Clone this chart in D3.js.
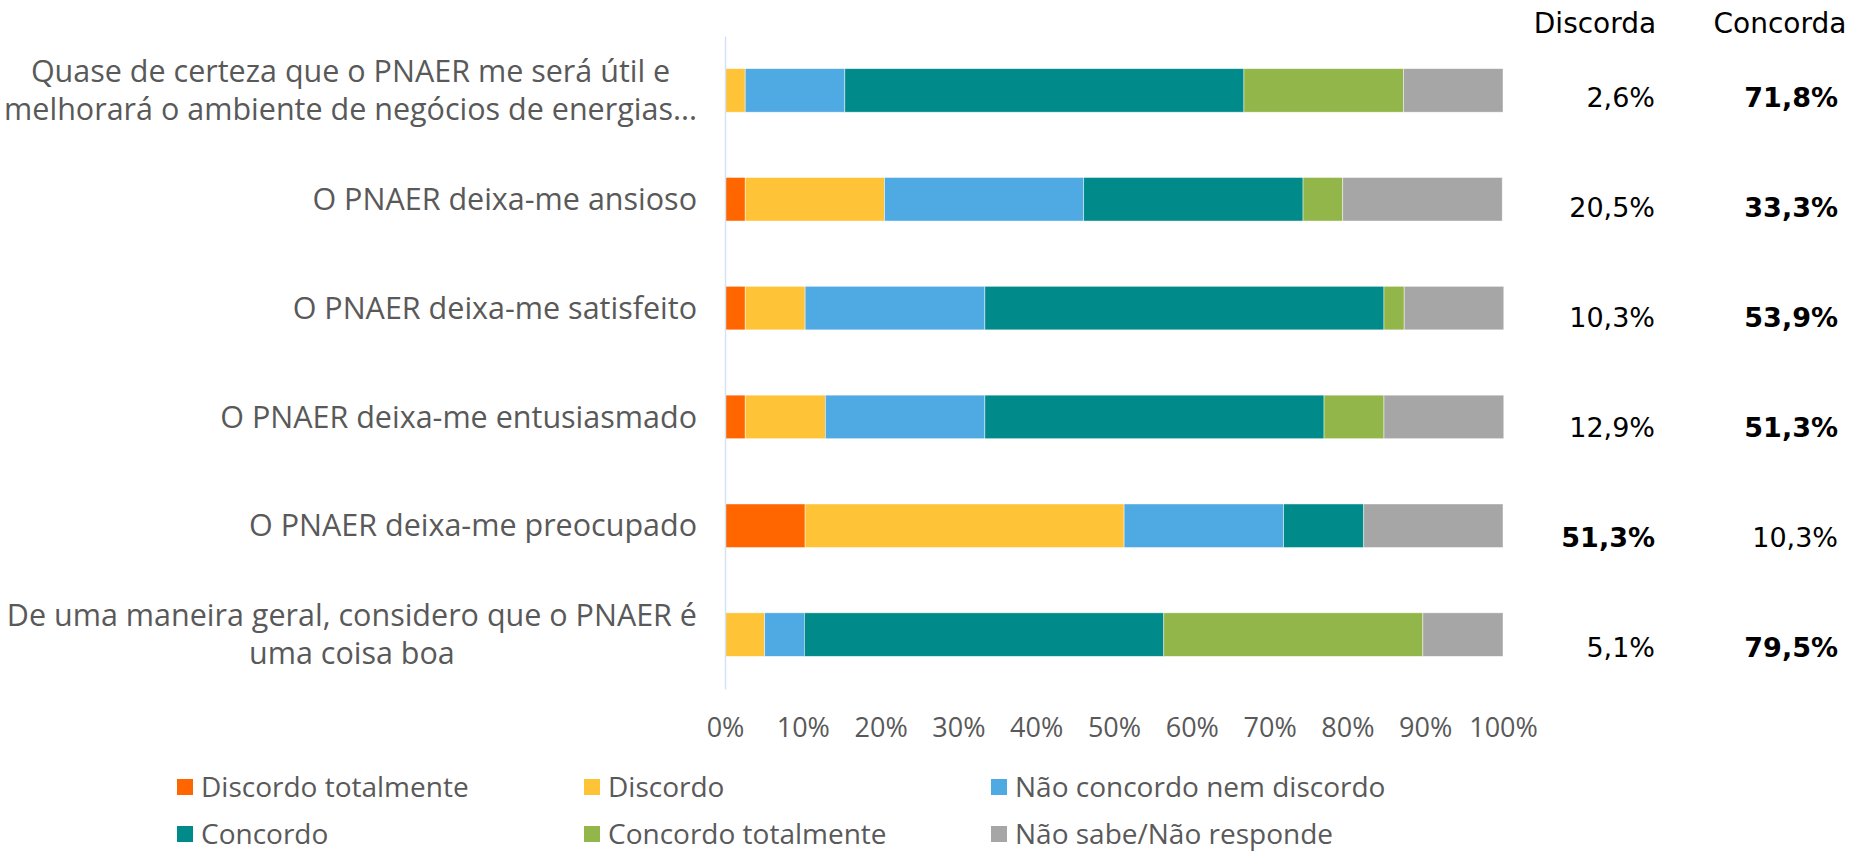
<!DOCTYPE html>
<html>
<head>
<meta charset="utf-8">
<script src="https://cdn.jsdelivr.net/npm/d3@7"></script>
<style>
  body { margin: 0; background: #fff; }
</style>
</head>
<body>
<div id="my_dataviz"></div>
<script>
// categories (one entry per bar, wrapped lines as in the original)
var categories = [
  ["Quase de certeza que o PNAER me será útil e", "melhorará o ambiente de negócios de energias..."],
  ["O PNAER deixa-me ansioso"],
  ["O PNAER deixa-me satisfeito"],
  ["O PNAER deixa-me entusiasmado"],
  ["O PNAER deixa-me preocupado"],
  ["De uma maneira geral, considero que o PNAER é", "uma coisa boa"]
];

var seriesNames = ["Discordo totalmente", "Discordo", "Não concordo nem discordo",
                   "Concordo", "Concordo totalmente", "Não sabe/Não responde"];
var seriesColors = ["#FF6600", "#FFC337", "#4FA9E2", "#008A8A", "#92B64A", "#A6A6A6"];

// values in % per category
var discordoTotalmente = [0, 2.6, 2.6, 2.6, 10.3, 0];
var discordo           = [2.6, 17.9, 7.7, 10.3, 41.0, 5.1];
var naoConcordoNem     = [12.8, 25.6, 23.1, 20.5, 20.5, 5.1];
var concordo           = [51.3, 28.2, 51.3, 43.6, 10.3, 46.2];
var concordoTotalmente = [20.5, 5.1, 2.6, 7.7, 0, 33.3];
var naoSabe            = [12.8, 20.5, 12.8, 15.4, 17.9, 10.3];

// summary columns on the right
var discordaTotal = ["2,6%", "20,5%", "10,3%", "12,9%", "51,3%", "5,1%"];
var concordaTotal = ["71,8%", "33,3%", "53,9%", "51,3%", "10,3%", "79,5%"];
var summaryHeaders = ["Discorda", "Concorda"];

var xTicks = [0, 10, 20, 30, 40, 50, 60, 70, 80, 90, 100];

var W = 1854, H = 852;
var plotLeft = 725, plotRight = 1503, plotTop = 36, plotBottom = 689;
var labelFont = "'Open Sans', Roboto, sans-serif";

var svg = d3.select("#my_dataviz")
  .append("svg")
    .attr("width", W)
    .attr("height", H)
    .style("font-family", labelFont);

// build rows for the stack
var keys = seriesNames;
var cols = [discordoTotalmente, discordo, naoConcordoNem, concordo, concordoTotalmente, naoSabe];
var rows = categories.map(function(c, i) {
  var r = { idx: i };
  keys.forEach(function(k, j) { r[k] = cols[j][i]; });
  return r;
});

var x = d3.scaleLinear().domain([0, 100]).range([plotLeft, plotRight]);
var y = d3.scaleBand()
  .domain(d3.range(categories.length))
  .range([plotTop, plotBottom])
  .paddingInner(0.6)
  .paddingOuter(0.3);

var stacked = d3.stack().keys(keys)(rows);

// bars
svg.append("g")
  .selectAll("g")
  .data(stacked)
  .enter().append("g")
    .attr("fill", function(d, i) { return seriesColors[i]; })
  .selectAll("rect")
  .data(function(d) { return d; })
  .enter().append("rect")
    .attr("x", function(d) { return x(d[0]); })
    .attr("y", function(d) { return y(d.data.idx); })
    .attr("width", function(d) { return Math.max(0, x(d[1]) - x(d[0])); })
    .attr("height", y.bandwidth())
    .attr("stroke", "#ffffff")
    .attr("stroke-opacity", 0.6)
    .attr("stroke-width", 0.75);

// vertical axis line
svg.append("g")
  .attr("transform", "translate(" + plotLeft + ",0)")
  .call(d3.axisLeft(y).tickSize(0).tickFormat(""))
  .call(function(g) {
    g.select(".domain").attr("stroke", "#D5E2F1").attr("stroke-width", 1.5);
  });

// x axis tick labels
svg.append("g")
  .attr("transform", "translate(0," + plotBottom + ")")
  .call(d3.axisBottom(x).tickValues(xTicks).tickSize(0).tickFormat(function(d) { return d + "%"; }))
  .call(function(g) {
    g.select(".domain").remove();
    g.selectAll("text")
      .attr("y", 39)
      .attr("dy", "0.35em")
      .attr("fill", "#595959")
      .style("font-family", labelFont)
      .style("font-size", "27px");
  });

// category labels
var labelRight = 697, lineH = 38;
var lab = svg.append("g")
  .attr("fill", "#595959")
  .style("font-size", "30.5px");

categories.forEach(function(lines, i) {
  var cy = y(i) + y.bandwidth() / 2;
  if (lines.length === 1) {
    lab.append("text")
      .attr("dy", "0.35em")
      .attr("text-anchor", "end")
      .attr("x", labelRight)
      .attr("y", cy)
      .text(lines[0]);
  } else {
    var widths = lines.map(function(l) {
      var n = lab.append("text").text(l);
      var w = n.node().getComputedTextLength();
      n.remove();
      return w;
    });
    var cx = Math.max(labelRight - d3.max(widths) / 2, d3.max(widths) / 2 + 4);
    lines.forEach(function(l, k) {
      lab.append("text")
        .attr("text-anchor", "middle")
        .attr("dy", "0.35em")
        .attr("x", cx)
        .attr("y", cy + (k - (lines.length - 1) / 2) * lineH)
        .text(l);
    });
  }
});

// summary table on the right
var yv = d3.scaleBand()
  .domain(d3.range(categories.length))
  .range([42, 703]);

function num(s) { return parseFloat(s.replace(",", ".").replace("%", "")); }

var tbl = svg.append("g")
  .attr("fill", "#000")
  .style("font-family", "'DejaVu Sans', sans-serif");

tbl.selectAll(".hdr")
  .data(summaryHeaders)
  .enter().append("text")
    .attr("class", "hdr")
    .attr("x", function(d, i) { return [1595, 1780][i]; })
    .attr("y", 23)
    .attr("dy", "0.35em")
    .attr("text-anchor", "middle")
    .style("font-size", "28px")
    .text(function(d) { return d; });

[discordaTotal, concordaTotal].forEach(function(col, c) {
  var other = c === 0 ? concordaTotal : discordaTotal;
  tbl.selectAll(".v" + c)
    .data(col)
    .enter().append("text")
      .attr("class", "v" + c)
      .attr("x", [1655, 1838][c])
      .attr("y", function(d, i) { return yv(i) + yv.bandwidth() / 2; })
      .attr("dy", "0.35em")
      .attr("text-anchor", "end")
      .style("font-size", "27px")
      .style("font-weight", function(d, i) { return num(d) > num(other[i]) ? "bold" : "normal"; })
      .text(function(d) { return d; });
});

// legend
var leg = svg.append("g").style("font-size", "28px");
seriesNames.forEach(function(name, i) {
  var col = i % 3, row = Math.floor(i / 3);
  var lx = 177 + col * 407, ly = 787 + row * 47;
  var g = leg.append("g").attr("transform", "translate(" + lx + "," + ly + ")");
  g.append("rect")
    .attr("x", 0).attr("y", -8)
    .attr("width", 16).attr("height", 16)
    .attr("fill", seriesColors[i]);
  g.append("text")
    .attr("x", 24)
    .attr("dy", "0.35em")
    .attr("fill", "#595959")
    .text(name);
});
</script>
</body>
</html>
